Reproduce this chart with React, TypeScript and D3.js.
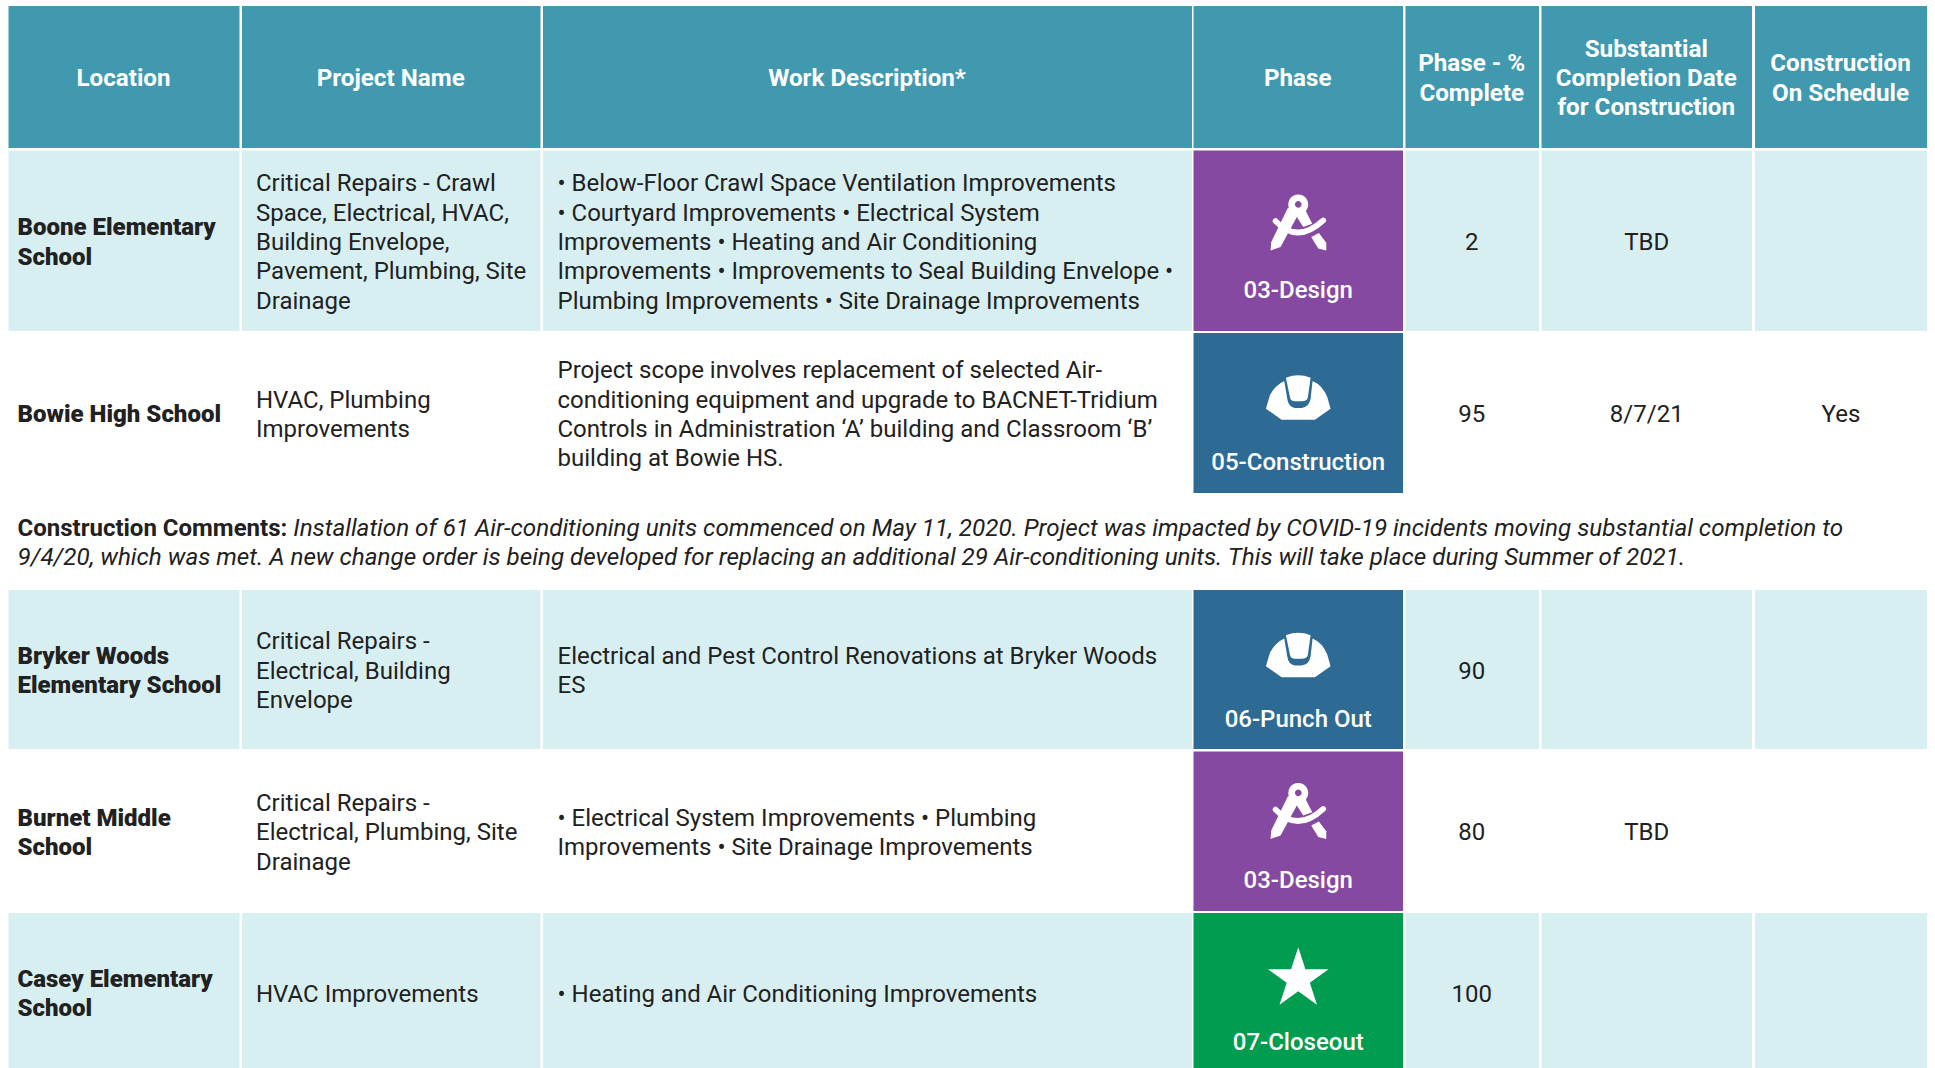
import React, { useEffect, useRef } from "react"
import * as d3 from "d3"

const columns = ["location", "project", "work", "phase", "pct", "date", "schedule"]
const headers = [
  ["Location"],
  ["Project Name"],
  ["Work Description*"],
  ["Phase"],
  ["Phase - %", "Complete"],
  ["Substantial", "Completion Date", "for Construction"],
  ["Construction", "On Schedule"],
]

const locations = [
  ["Boone Elementary", "School"],
  ["Bowie High School"],
  ["Bryker Woods", "Elementary School"],
  ["Burnet Middle", "School"],
  ["Casey Elementary", "School"],
]
const projects = [
  ["Critical Repairs - Crawl", "Space, Electrical, HVAC,", "Building Envelope,", "Pavement, Plumbing, Site", "Drainage"],
  ["HVAC, Plumbing", "Improvements"],
  ["Critical Repairs -", "Electrical, Building", "Envelope"],
  ["Critical Repairs -", "Electrical, Plumbing, Site", "Drainage"],
  ["HVAC Improvements"],
]
const descriptions = [
  [
    "• Below-Floor Crawl Space Ventilation Improvements",
    "• Courtyard Improvements • Electrical System",
    "Improvements • Heating and Air Conditioning",
    "Improvements • Improvements to Seal Building Envelope •",
    "Plumbing Improvements • Site Drainage Improvements",
  ],
  [
    "Project scope involves replacement of selected Air-",
    "conditioning equipment and upgrade to BACNET-Tridium",
    "Controls in Administration ‘A’ building and Classroom ‘B’",
    "building at Bowie HS.",
  ],
  ["Electrical and Pest Control Renovations at Bryker Woods", "ES"],
  ["• Electrical System Improvements • Plumbing", "Improvements • Site Drainage Improvements"],
  ["• Heating and Air Conditioning Improvements"],
]
const phases = ["03-Design", "05-Construction", "06-Punch Out", "03-Design", "07-Closeout"]
const percents = ["2", "95", "90", "80", "100"]
const dates = ["TBD", "8/7/21", "", "TBD", ""]
const onSchedule = ["", "Yes", "", "", ""]

const commentLabel = "Construction Comments: "
const commentLines = [
  "Installation of 61 Air-conditioning units commenced on May 11, 2020. Project was impacted by COVID-19 incidents moving substantial completion to",
  "9/4/20, which was met. A new change order is being developed for replacing an additional 29 Air-conditioning units. This will take place during Summer of 2021.",
]

// layout, in page pixels
const colLeft = [8.5, 242, 543, 1193.5, 1405.5, 1541.5, 1755]
const colRight = [239.5, 540.5, 1192, 1403, 1539, 1752, 1927]
const rowTop = [150.5, 333, 590, 751.5, 913]
const rowBottom = [331, 493, 749, 911, 1072]
const headerTop = 6
const headerBottom = 148
const lineH = 29.4
const fontSize = 24
const italicSize = 24.23
const font = "Roboto, sans-serif"

const left = d3.scaleOrdinal<string, number>().domain(columns).range(colLeft)
const right = d3.scaleOrdinal<string, number>().domain(columns).range(colRight)
const phaseColor = d3.scaleOrdinal<string, string>()
  .domain(["03-Design", "05-Construction", "06-Punch Out", "07-Closeout"])
  .range(["#8549a1", "#2e6b94", "#2e6b94", "#009c50"])

const TEXT = "#212121"
const HEADER = "#4099ae"
const STRIPE = "#d8eff2"

// draws a block of lines centred on cy
function lines(g: any, rows: string[], x: number, cy: number, opts: any) {
  rows.forEach((s, i) => {
    g.append("text")
      .attr("x", x)
      .attr("y", cy + 0.7 + (i - (rows.length - 1) / 2) * (opts.step || lineH))
      .attr("dy", "0.355em")
      .attr("text-anchor", opts.anchor || "start")
      .attr("font-family", font)
      .attr("font-size", opts.size || fontSize)
      .attr("font-weight", opts.weight || 400)
      .attr("fill", opts.fill || TEXT)
      .text(s)
  })
}

function drawCompass(g: any, cx: number, cy: number) {
  const ic = g.append("g").attr("transform", `translate(${cx},${cy}) scale(0.3333) translate(-353,-245)`).attr("fill", "#fff")
  ic.append("path").attr("fill-rule", "evenodd")
    .attr("d", "M353,160a30,30 0 1 1 -0.01,0zM353,180a10,10 0 1 0 0.01,0z")
  ic.append("path").attr("d", "M338,200L322,200L272,303L270,328L300,318L352,222Z")
  ic.append("path").attr("d", "M368,195L345,222L368,258L395,248Z")
  ic.append("path").attr("d", "M392,288L415,276L437,305L437,328L413,322Z")
  ic.append("path").attr("fill", "none").attr("stroke", "#fff").attr("stroke-width", 17).attr("stroke-linecap", "round")
    .attr("d", "M285,240Q350,310 428,238")
}

function drawHat(g: any, cx: number, cy: number) {
  const ic = g.append("g").attr("transform", `translate(${cx},${cy}) scale(0.3333) translate(-355,-770)`).attr("fill", "#fff")
  ic.append("path").attr("d", "M258,805L270,765Q285,735 313,722L322,775Q325,800 345,803L365,803Q388,800 392,775L398,722Q428,735 442,770L452,805L405,838L305,838Z")
  ic.append("path").attr("d", "M318,712Q355,698 392,712L384,770Q382,783 365,783L345,783Q332,783 330,770Z")
}

function App() {
  const ref = useRef<SVGSVGElement>(null)

  useEffect(() => {
    const svg = d3.select(ref.current)
    svg.selectAll("*").remove()

    // header row
    columns.forEach((c, i) => {
      svg.append("rect")
        .attr("x", left(c)).attr("y", headerTop)
        .attr("width", right(c) - left(c)).attr("height", headerBottom - headerTop)
        .attr("fill", HEADER)
      lines(svg, headers[i], (left(c) + right(c)) / 2 - 0.5, (headerTop + headerBottom) / 2 - 0.2, {
        anchor: "middle", weight: 700, fill: "#fff", size: 24.2,
      })
    })

    locations.forEach((loc, r) => {
      const top = rowTop[r]
      const bottom = rowBottom[r]
      const cy = (top + bottom) / 2
      const cx = (c: string) => (left(c) + right(c)) / 2

      columns.forEach(c => {
        if (r % 2 === 0 && c !== "phase") {
          svg.append("rect")
            .attr("x", left(c)).attr("y", top)
            .attr("width", right(c) - left(c)).attr("height", bottom - top)
            .attr("fill", STRIPE)
        }
      })

      lines(svg, loc, left("location") + 9, cy, { weight: 900 })
      lines(svg, projects[r], left("project") + 14, cy, {})
      lines(svg, descriptions[r], left("work") + 14.5, cy, {})
      lines(svg, [percents[r]], cx("pct") - 0.5, cy, { anchor: "middle" })
      lines(svg, [dates[r]], cx("date"), cy, { anchor: "middle" })
      lines(svg, [onSchedule[r]], cx("schedule"), cy, { anchor: "middle" })

      // phase cell
      const ph = phases[r]
      svg.append("rect")
        .attr("x", left("phase")).attr("y", top)
        .attr("width", right("phase") - left("phase")).attr("height", bottom - top)
        .attr("fill", phaseColor(ph))
      lines(svg, [ph], cx("phase"), cy + 48, { anchor: "middle", weight: 500, fill: "#fff" })
      const iconY = cy + [-18, -16, -15, -20, -13.5][r]
      if (ph === "03-Design") drawCompass(svg, cx("phase"), iconY)
      else if (ph === "07-Closeout") {
        svg.append("path")
          .attr("transform", `translate(${cx("phase")},${iconY})`)
          .attr("fill", "#fff")
          .attr("d", d3.symbol(d3.symbolStar, 1140)())
      } else drawHat(svg, cx("phase"), iconY)
    })

    // comment block under Bowie
    const t = svg.append("text")
      .attr("x", 17.5).attr("y", 527.2).attr("dy", "0.355em")
      .attr("font-family", font).attr("font-size", fontSize).attr("fill", TEXT)
    t.append("tspan").attr("font-weight", 700).text(commentLabel)
    t.append("tspan").attr("font-style", "italic").attr("font-size", italicSize).text(commentLines[0])
    svg.append("text")
      .attr("x", 17.5).attr("y", 556.6).attr("dy", "0.355em")
      .attr("font-family", font).attr("font-size", italicSize).attr("font-style", "italic").attr("fill", TEXT)
      .text(commentLines[1])
  }, [])

  return (
    <svg
      ref={ref}
      width={1935}
      height={1068}
      style={{ position: "absolute", left: 0, top: 0, display: "block", background: "#fff" }}
    />
  )
}

export default App
